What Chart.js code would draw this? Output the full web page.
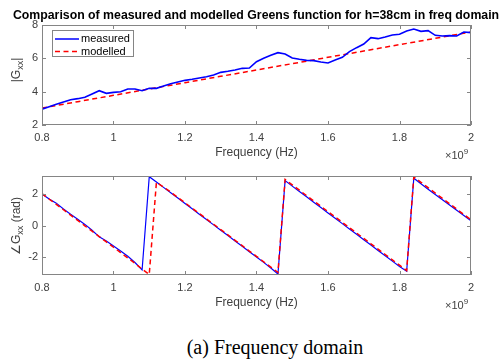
<!DOCTYPE html>
<html>
<head>
<meta charset="utf-8">
<script src="https://cdn.jsdelivr.net/npm/chart.js@4.4.0/dist/chart.umd.min.js"></script>
<style>
body { margin: 0; background: #fff; width: 501px; height: 360px; overflow: hidden; position: relative; }
#top { position: absolute; left: 0; top: 0; }
#bot { position: absolute; left: 0; top: 160px; }
#caption { position: absolute; left: 0; width: 550px; top: 336px; text-align: center;
  font: 20px "Liberation Serif", "Times New Roman", serif; color: #000; }
</style>
</head>
<body>
<canvas id="top" width="501" height="165"></canvas>
<canvas id="bot" width="501" height="155"></canvas>
<div id="caption">(a) Frequency domain</div>
<script>
// Frequency samples (x 10^9 Hz)
const freq = [0.80, 0.82, 0.84, 0.86, 0.88, 0.90, 0.92, 0.94, 0.96, 0.98,
              1.00, 1.02, 1.04, 1.06, 1.08, 1.10, 1.12, 1.14, 1.16, 1.18,
              1.20, 1.22, 1.24, 1.26, 1.28, 1.30, 1.32, 1.34, 1.36, 1.38,
              1.40, 1.42, 1.44, 1.46, 1.48, 1.50, 1.52, 1.54, 1.56, 1.58,
              1.60, 1.62, 1.64, 1.66, 1.68, 1.70, 1.72, 1.74, 1.76, 1.78,
              1.80, 1.82, 1.84, 1.86, 1.88, 1.90, 1.92, 1.94, 1.96, 1.98, 2.00];

// |Gxx| measured
const magMeasured = [2.95, 3.10, 3.24, 3.38, 3.52, 3.58, 3.66, 3.86, 4.06, 3.90,
                     3.96, 3.99, 4.16, 4.16, 4.06, 4.20, 4.20, 4.34, 4.48, 4.58,
                     4.68, 4.74, 4.82, 4.90, 5.00, 5.16, 5.22, 5.30, 5.40, 5.42,
                     5.80, 6.00, 6.18, 6.34, 6.26, 6.02, 5.94, 5.88, 5.86, 5.78,
                     5.72, 5.90, 6.06, 6.40, 6.64, 6.86, 7.24, 7.18, 7.28, 7.40,
                     7.44, 7.64, 7.76, 7.62, 7.66, 7.38, 7.34, 7.36, 7.34, 7.58, 7.54];

// |Gxx| modelled (coarser sampling)
const magModelFreq = [0.8, 0.9, 1.0, 1.1, 1.2, 1.3, 1.4, 1.5, 1.6, 1.7, 1.8, 1.9, 2.0];
const magModelled = [3.02, 3.40, 3.78, 4.16, 4.54, 4.92, 5.30, 5.68, 6.06, 6.44, 6.82, 7.20, 7.58];

// angle Gxx (rad)
const phaseMeasured = [2.00, 1.68, 1.42, 1.05, 0.72, 0.40, 0.07, -0.30, -0.72, -0.98,
                       -1.30, -1.62, -1.95, -2.35, -2.82, 3.10, 2.76, 2.42, 2.08, 1.74,
                       1.40, 1.06, 0.72, 0.38, 0.04, -0.30, -0.64, -0.98, -1.32, -1.66,
                       -2.00, -2.34, -2.70, -3.08, 2.85, 2.50, 2.16, 1.82, 1.48, 1.14,
                       0.80, 0.46, 0.12, -0.22, -0.56, -0.90, -1.24, -1.58, -1.92, -2.26,
                       -2.60, -2.90, 3.00, 2.65, 2.30, 1.97, 1.63, 1.30, 0.97, 0.63, 0.30];
const phaseModelled = [2.02, 1.68, 1.34, 1.00, 0.66, 0.32, -0.02, -0.36, -0.70, -1.04,
                       -1.38, -1.72, -2.06, -2.40, -2.77, -3.11, 2.74, 2.44, 2.12, 1.78,
                       1.44, 1.10, 0.76, 0.42, 0.08, -0.26, -0.60, -0.94, -1.28, -1.62,
                       -1.96, -2.30, -2.64, -2.98, 2.92, 2.58, 2.24, 1.90, 1.56, 1.22,
                       0.88, 0.54, 0.20, -0.14, -0.48, -0.82, -1.16, -1.50, -1.84, -2.18,
                       -2.52, -2.86, 3.08, 2.74, 2.40, 2.06, 1.72, 1.38, 1.04, 0.70, 0.36];

const xTicks = [0.8, 1.0, 1.2, 1.4, 1.6, 1.8, 2.0];
const magTicks = [2, 4, 6, 8];
const phaseTicks = [-2, 0, 2];

const FONT = '"Liberation Sans", Arial, sans-serif';
const TEXT = '#404040';
const AXIS = '#858585';

function pts(xs, ys) {
    return xs.map((x, i) => ({ x: x, y: ys[i] }));
}

// box round the axes with inward ticks on all four sides
const boxPlugin = {
    id: 'box',
    afterDatasetsDraw(chart) {
        const { ctx, chartArea: a, scales: { x, y } } = chart;
        ctx.save();
        ctx.strokeStyle = AXIS;
        ctx.lineWidth = 1;
        ctx.strokeRect(a.left + 0.5, a.top + 0.5, a.right - a.left - 1, a.bottom - a.top - 1);
        ctx.beginPath();
        x.ticks.forEach(t => {
            const px = Math.round(x.getPixelForValue(t.value)) + 0.5;
            ctx.moveTo(px, a.bottom); ctx.lineTo(px, a.bottom - 4);
            ctx.moveTo(px, a.top); ctx.lineTo(px, a.top + 4);
        });
        y.ticks.forEach(t => {
            const py = Math.round(y.getPixelForValue(t.value)) + 0.5;
            ctx.moveTo(a.left, py); ctx.lineTo(a.left + 4, py);
            ctx.moveTo(a.right, py); ctx.lineTo(a.right - 4, py);
        });
        ctx.stroke();
        ctx.restore();
    }
};

// extra text: rotated y label with subscript, x10^9 and optional title
const textPlugin = {
    id: 'texts',
    afterDraw(chart, args, opts) {
        const { ctx, chartArea: a } = chart;
        ctx.save();
        ctx.fillStyle = TEXT;
        // y label
        ctx.translate(20, opts.labelY);
        ctx.rotate(-Math.PI / 2);
        ctx.textBaseline = 'alphabetic';
        ctx.textAlign = 'left';
        const big = '12px ' + FONT, small = '9px ' + FONT;
        const parts = [[opts.pre, big, 0], ['xx', small, 3], [opts.post, big, 0]];
        let w = 0;
        parts.forEach(p => { ctx.font = p[1]; w += ctx.measureText(p[0]).width; });
        let cx = -w / 2;
        parts.forEach(p => {
            ctx.font = p[1];
            ctx.fillText(p[0], cx, p[2]);
            cx += ctx.measureText(p[0]).width;
        });
        ctx.setTransform(1, 0, 0, 1, 0, 0);
        // x10^9
        ctx.font = '11px ' + FONT;
        ctx.textAlign = 'left';
        ctx.fillText('\u00d710', 445, a.bottom + 34);
        const ww = ctx.measureText('\u00d710').width;
        ctx.font = '8px ' + FONT;
        ctx.fillText('9', 445 + ww, a.bottom + 29);
        // title
        if (opts.title) {
            ctx.fillStyle = '#000';
            ctx.font = 'bold 12.3px ' + FONT;
            ctx.textAlign = 'center';
            ctx.fillText(opts.title, 256, 19);
        }
        // legend
        if (opts.legend) {
            ctx.fillStyle = '#fff';
            ctx.fillRect(52.5, 30.5, 81, 26);
            ctx.strokeStyle = AXIS;
            ctx.lineWidth = 1;
            ctx.strokeRect(52.5, 30.5, 81, 26);
            ctx.lineWidth = 1.5;
            ctx.strokeStyle = '#0000ff';
            ctx.beginPath(); ctx.moveTo(55, 39); ctx.lineTo(79, 39); ctx.stroke();
            ctx.strokeStyle = '#ff0000';
            ctx.setLineDash([5, 3.5]);
            ctx.beginPath(); ctx.moveTo(55, 51.5); ctx.lineTo(79, 51.5); ctx.stroke();
            ctx.setLineDash([]);
            ctx.fillStyle = '#000';
            ctx.font = '11px ' + FONT;
            ctx.textAlign = 'left';
            ctx.textBaseline = 'middle';
            ctx.fillText('measured', 81, 39);
            ctx.fillText('modelled', 81, 51.5);
        }
        ctx.restore();
    }
};

function xScale() {
    return {
        type: 'linear', min: 0.8, max: 2.0,
        afterFit: s => { s.height = 40; },
        afterBuildTicks: s => { s.ticks = xTicks.map(v => ({ value: v })); },
        grid: { display: false, drawTicks: false },
        border: { display: false },
        ticks: {
            color: TEXT, font: { family: FONT, size: 11 }, padding: 6, maxRotation: 0,
            callback: v => String(+v.toFixed(1))
        },
        title: { display: true, text: 'Frequency (Hz)', color: TEXT,
                 font: { family: FONT, size: 12 }, padding: { top: 0, bottom: 5 } }
    };
}

function yScale(min, max, ticks) {
    return {
        type: 'linear', min: min, max: max,
        afterFit: s => { s.width = 42; },
        afterBuildTicks: s => { s.ticks = ticks.map(v => ({ value: v })); },
        grid: { display: false, drawTicks: false },
        border: { display: false },
        ticks: { color: TEXT, font: { family: FONT, size: 11 }, padding: 4 }
    };
}

const common = {
    responsive: false,
    animation: false,
    plugins: { legend: { display: false }, tooltip: { enabled: false } },
    elements: { point: { radius: 0 }, line: { tension: 0 } }
};

new Chart(document.getElementById('top'), {
    type: 'line',
    data: {
        datasets: [
            { label: 'measured', data: pts(freq, magMeasured), borderColor: '#0000ff', borderWidth: 1.6 },
            { label: 'modelled', data: pts(magModelFreq, magModelled), borderColor: '#ff0000',
              borderWidth: 1.5, borderDash: [5, 3.5] }
        ]
    },
    options: Object.assign({}, common, {
        layout: { padding: { left: 0, right: 30, top: 25, bottom: 0 } },
        scales: { x: xScale(), y: yScale(2, 8, magTicks) },
        plugins: Object.assign({}, common.plugins, {
            texts: { labelY: 70, pre: '|G', post: '|',
                     title: 'Comparison of measured and modelled Greens function for h=38cm in freq domain',
                     legend: true }
        })
    }),
    plugins: [boxPlugin, textPlugin]
});

new Chart(document.getElementById('bot'), {
    type: 'line',
    data: {
        datasets: [
            { label: 'modelled', data: pts(freq, phaseModelled), borderColor: '#ff0000',
              borderWidth: 1.5, borderDash: [5, 3.5] },
            { label: 'measured', data: pts(freq, phaseMeasured), borderColor: '#0000ff', borderWidth: 1.2 }
        ]
    },
    options: Object.assign({}, common, {
        layout: { padding: { left: 0, right: 30, top: 16, bottom: 0 } },
        scales: { x: xScale(), y: yScale(-Math.PI, Math.PI, phaseTicks) },
        plugins: Object.assign({}, common.plugins, {
            texts: { labelY: 66, pre: '\u2220G', post: ' (rad)' }
        })
    }),
    plugins: [boxPlugin, textPlugin]
});
</script>
</body>
</html>
